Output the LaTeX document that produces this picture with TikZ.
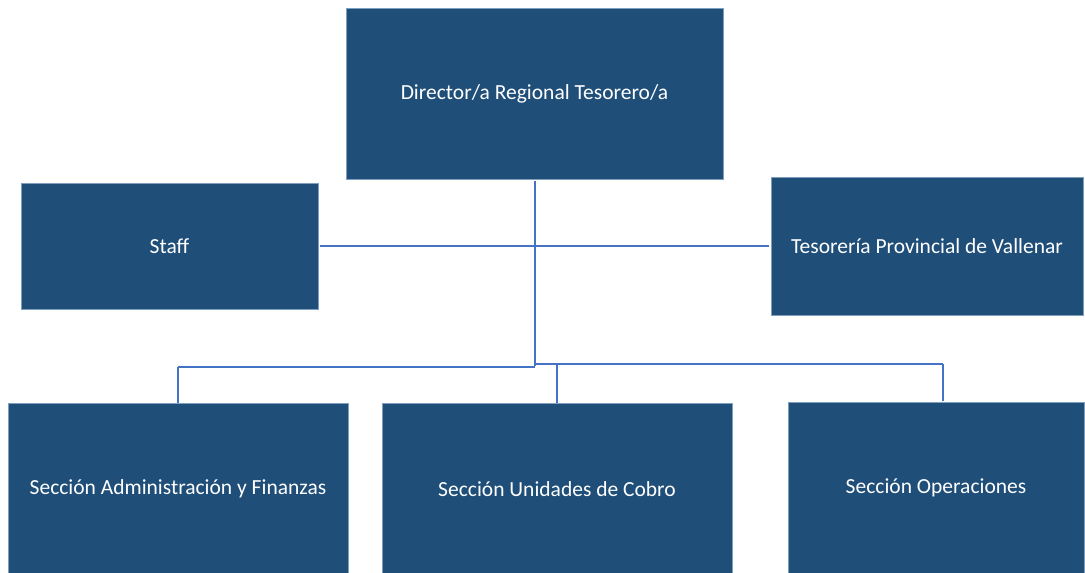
\documentclass[tikz,border=0pt]{standalone}
\usepackage{fontspec}
\setmainfont{Carlito}
\definecolor{boxfill}{HTML}{1F4E79}
\definecolor{boxline}{HTML}{7F9FBF}
\definecolor{conn}{HTML}{4472C4}
\begin{document}
\begin{tikzpicture}[x=1pt,y=-1pt,
  orgbox/.style={draw=boxline, line width=0.8pt, fill=boxfill, text=white, font=\fontsize{21.5}{26}\selectfont},
  connector/.style={draw=conn, line width=1.6pt}]
\useasboundingbox (0,0) rectangle (1085,573);
\node[orgbox, minimum width=377pt, minimum height=171pt] (dir) at (534.5,93.5) {Director/a Regional Tesorero/a};
\node[orgbox, minimum width=297pt, minimum height=126pt] (staff) at (169.5,246) {Staff};
\node[orgbox, minimum width=312pt, minimum height=138pt] (tes) at (927,246) {Tesorería Provincial de Vallenar};
\node[orgbox, minimum width=340pt, minimum height=172pt] (adm) at (178,489) {Sección Administración y Finanzas};
\node[orgbox, minimum width=350pt, minimum height=172pt] (uni) at (557,489) {Sección Unidades de Cobro};
\node[orgbox, minimum width=296pt, minimum height=172pt] (ope) at (936,488) {Sección Operaciones};
\coordinate (hub) at (535,246);
\coordinate (bus) at (535,366);
\draw[connector] (535,181) -- (bus);
\draw[connector] ([xshift=2pt]staff.east) -- (hub) -- ([xshift=-2pt]tes.west);
\draw[connector] (178,367) -- (535,367);
\draw[connector] (535,364) -- (943,364);
\draw[connector] (178,367) -- (adm.north -| 178,0);
\draw[connector] (557,365) -- (uni.north);
\draw[connector] (943,364) -- (943,401);
\end{tikzpicture}
\end{document}
